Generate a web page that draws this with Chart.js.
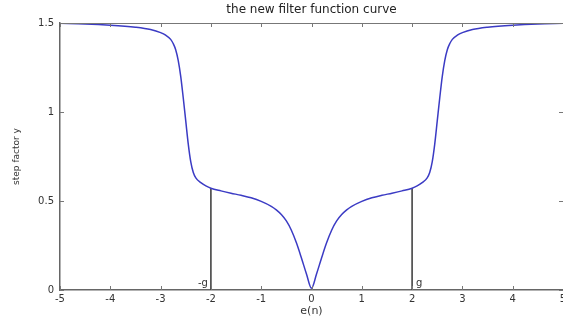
<!DOCTYPE html>
<html>
<head>
<meta charset="utf-8">
<script src="https://cdn.jsdelivr.net/npm/chart.js@4"></script>
<style>
  html, body { margin: 0; padding: 0; background: #fff; }
  #chart { display: block; }
</style>
</head>
<body>
<canvas id="chart" width="563" height="322"></canvas>
<script>
// curve, e(n) vs step factor
const errValues = [-5, -4.5, -4, -3.5, -3.2, -3, -2.9, -2.8, -2.75, -2.7, -2.65, -2.6, -2.55, -2.5, -2.45, -2.4, -2.35, -2.3, -2.2, -2.1,
  -2, -1.8, -1.6, -1.4, -1.2, -1, -0.8, -0.7, -0.6, -0.5, -0.4, -0.3, -0.2, -0.1, 0,
  0.1, 0.2, 0.3, 0.4, 0.5, 0.6, 0.7, 0.8, 1, 1.2, 1.4, 1.6, 1.8, 2,
  2.1, 2.2, 2.3, 2.35, 2.4, 2.45, 2.5, 2.55, 2.6, 2.65, 2.7, 2.75, 2.8, 2.9, 3, 3.2, 3.5, 4, 4.5, 5];
const stepFactor = [1.498, 1.495, 1.488, 1.476, 1.463, 1.446, 1.432, 1.408, 1.385, 1.35, 1.29, 1.2, 1.08, 0.95, 0.82, 0.72, 0.66, 0.63, 0.603, 0.585,
  0.572, 0.557, 0.544, 0.532, 0.518, 0.498, 0.47, 0.45, 0.424, 0.388, 0.336, 0.265, 0.18, 0.09, 0.01,
  0.09, 0.18, 0.265, 0.336, 0.388, 0.424, 0.45, 0.47, 0.498, 0.518, 0.532, 0.544, 0.557, 0.572,
  0.585, 0.603, 0.63, 0.66, 0.72, 0.82, 0.95, 1.08, 1.2, 1.29, 1.35, 1.385, 1.408, 1.432, 1.446, 1.463, 1.476, 1.488, 1.495, 1.498];

// threshold markers -g and g
const gPositions = [-2, 2];
const gHeights = [0.572, 0.572];
const gLabels = ['-g', 'g'];

const xTicks = [-5, -4, -3, -2, -1, 0, 1, 2, 3, 4, 5];
const yTicks = [0, 0.5, 1, 1.5];

const curvePoints = errValues.map((x, i) => ({ x: x, y: stepFactor[i] }));

const datasets = [{
  data: curvePoints,
  borderColor: '#3b3bc4',
  borderWidth: 1.5,
  pointRadius: 0,
  cubicInterpolationMode: 'monotone'
}];
gPositions.forEach((gx, i) => {
  datasets.push({
    data: [{ x: gx, y: 0 }, { x: gx, y: gHeights[i] }],
    borderColor: '#444',
    borderWidth: 1.6,
    pointRadius: 0
  });
});

const fontFamily = '"DejaVu Sans", Verdana, sans-serif';

// inward ticks, top border, g labels
const matlabAxes = {
  id: 'matlabAxes',
  afterDraw(chart) {
    const c = chart.ctx, a = chart.chartArea;
    const xs = chart.scales.x, ys = chart.scales.y;
    c.save();
    c.strokeStyle = '#777';
    c.lineWidth = 1;
    c.beginPath();
    c.moveTo(a.left, a.top + 0.5);
    c.lineTo(a.right, a.top + 0.5);
    xTicks.forEach(v => {
      const px = Math.round(xs.getPixelForValue(v)) + 0.5;
      c.moveTo(px, a.bottom); c.lineTo(px, a.bottom - 4);
      c.moveTo(px, a.top); c.lineTo(px, a.top + 4);
    });
    yTicks.forEach(v => {
      const py = Math.round(ys.getPixelForValue(v)) + 0.5;
      c.moveTo(a.left, py); c.lineTo(a.left + 4, py);
      c.moveTo(a.right, py); c.lineTo(a.right - 4, py);
    });
    c.stroke();
    c.fillStyle = '#333';
    c.font = '10px ' + fontFamily;
    c.textBaseline = 'bottom';
    gPositions.forEach((gx, i) => {
      const px = xs.getPixelForValue(gx);
      if (gx < 0) { c.textAlign = 'right'; c.fillText(gLabels[i], px - 3, a.bottom - 2); }
      else { c.textAlign = 'left'; c.fillText(gLabels[i], px + 4, a.bottom - 2); }
    });
    c.restore();
  }
};

const tickFont = { family: fontFamily, size: 10 };

new Chart(document.getElementById('chart').getContext('2d'), {
  type: 'line',
  data: { datasets: datasets },
  options: {
    responsive: false,
    animation: false,
    layout: { padding: 0 },
    plugins: {
      legend: { display: false },
      tooltip: { enabled: false }
    },
    scales: {
      x: {
        type: 'linear',
        min: -5,
        max: 5,
        afterBuildTicks: s => { s.ticks = xTicks.map(v => ({ value: v })); },
        afterFit: s => { s.height = 32; s.paddingLeft = 0; s.paddingRight = 0; },
        grid: { display: false, drawTicks: false },
        border: { display: true, color: '#666', width: 1.5 },
        ticks: { color: '#333', font: tickFont, padding: 3, maxRotation: 0, callback: v => String(v) },
        title: {
          display: true,
          text: 'e(n)',
          color: '#333',
          font: { family: fontFamily, size: 11 },
          padding: { top: 0, bottom: 4 }
        }
      },
      // top axis only carries the chart title so it centres over the plot area
      xTop: {
        type: 'linear',
        position: 'top',
        min: -5,
        max: 5,
        afterFit: s => { s.height = 23; s.paddingLeft = 0; s.paddingRight = 0; },
        grid: { display: false, drawTicks: false },
        border: { display: false },
        ticks: { display: false },
        title: {
          display: true,
          text: 'the new filter function curve',
          color: '#222',
          font: { family: fontFamily, size: 12 },
          padding: { top: 3, bottom: 0 }
        }
      },
      y: {
        type: 'linear',
        min: 0,
        max: 1.5,
        afterBuildTicks: s => { s.ticks = yTicks.map(v => ({ value: v })); },
        afterFit: s => { s.width = 60; s.paddingTop = 0; s.paddingBottom = 0; },
        grid: { display: false, drawTicks: false },
        border: { display: true, color: '#666', width: 1.5 },
        ticks: { color: '#333', font: tickFont, padding: 6, callback: v => String(v) },
        title: {
          display: true,
          text: 'step factor y',
          color: '#333',
          font: { family: fontFamily, size: 9 },
          padding: { top: 11, bottom: 0 }
        }
      }
    }
  },
  plugins: [matlabAxes]
});
</script>
</body>
</html>
